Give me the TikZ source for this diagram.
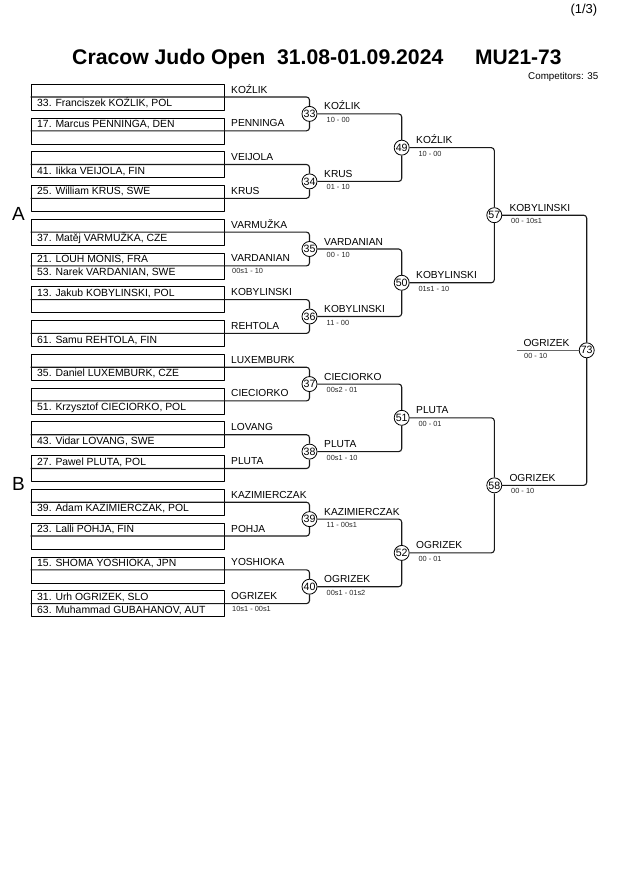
\documentclass[tikz,border=0pt]{standalone}
\usepackage{fontspec}
\setmainfont{Liberation Sans}
\begin{document}
\begin{tikzpicture}[x=1pt,y=-1pt,line join=bevel,
  slot/.style={draw,line width=0.6pt,minimum width=193pt,minimum height=26pt,inner sep=0pt},
  entrant/.style={anchor=base west,inner sep=0pt,font=\fontsize{10.4}{12}\selectfont},
  winner/.style={anchor=base west,inner sep=0pt,font=\fontsize{10.2}{12}\selectfont},
  score/.style={anchor=base west,inner sep=0pt,text=black!85,font=\fontsize{7.4}{9}\selectfont},
  bout/.style={draw,circle,fill=white,line width=0.8pt,minimum size=15pt,inner sep=0pt,font=\fontsize{10.6}{11}\selectfont},
  link/.style={draw=black!90,line width=1.1pt,rounded corners=3pt}]
  \useasboundingbox (0,0) rectangle (630,891);
%%
  % Node: header
  \node[anchor=base east,inner sep=0pt,font=\fontsize{13}{15}\selectfont] (page) at (597.5,13.3) {(1/3)};
  \node[anchor=base west,inner sep=0pt,font=\fontsize{21.2}{24}\selectfont\bfseries] (title) at (72,65) {Cracow Judo Open~~31.08-01.09.2024};
  \node[anchor=base west,inner sep=0pt,font=\fontsize{21}{24}\selectfont\bfseries] (cat) at (475,65) {MU21-73};
  \node[anchor=base east,inner sep=0pt,font=\fontsize{9.8}{11}\selectfont] (count) at (598.5,80) {Competitors: 35};
  \node[anchor=base west,inner sep=0pt,font=\fontsize{19}{22}\selectfont] (poolA) at (12,220) {A};
  \node[anchor=base west,inner sep=0pt,font=\fontsize{19}{22}\selectfont] (poolB) at (12,490) {B};
%
  % Node: slots, pool A
  \node[slot] (s1) at (127.5,97.0) {};
  \node[slot] (s2) at (127.5,130.8) {};
  \node[slot] (s3) at (127.5,164.5) {};
  \node[slot] (s4) at (127.5,198.3) {};
  \node[slot] (s5) at (127.5,232.1) {};
  \node[slot] (s6) at (127.5,265.9) {};
  \node[slot] (s7) at (127.5,299.6) {};
  \node[slot] (s8) at (127.5,333.4) {};
  % Node: slots, pool B
  \node[slot] (s9) at (127.5,367.2) {};
  \node[slot] (s10) at (127.5,400.9) {};
  \node[slot] (s11) at (127.5,434.7) {};
  \node[slot] (s12) at (127.5,468.5) {};
  \node[slot] (s13) at (127.5,502.2) {};
  \node[slot] (s14) at (127.5,536.0) {};
  \node[slot] (s15) at (127.5,569.8) {};
  \node[slot] (s16) at (127.5,603.6) {};
%
  % Node: entrants
  \node[entrant] (e1) at (37,106.7) {33. Franciszek KOŹLIK, POL};
  \node[entrant] (e2) at (37,127.3) {17. Marcus PENNINGA, DEN};
  \node[entrant] (e3) at (37,174.2) {41. Iikka VEIJOLA, FIN};
  \node[entrant] (e4) at (37,194.8) {25. William KRUS, SWE};
  \node[entrant] (e5) at (37,241.8) {37. Matěj VARMUŽKA, CZE};
  \node[entrant] (e6) at (37,262.4) {21. LOUH MONIS, FRA};
  \node[entrant] (e6b) at (37,275.6) {53. Narek VARDANIAN, SWE};
  \node[entrant] (e7) at (37,296.1) {13. Jakub KOBYLINSKI, POL};
  \node[entrant] (e8) at (37,343.1) {61. Samu REHTOLA, FIN};
  \node[entrant] (e9) at (37,376.9) {35. Daniel LUXEMBURK, CZE};
  \node[entrant] (e10) at (37,410.6) {51. Krzysztof CIECIORKO, POL};
  \node[entrant] (e11) at (37,444.4) {43. Vidar LOVANG, SWE};
  \node[entrant] (e12) at (37,465.0) {27. Pawel PLUTA, POL};
  \node[entrant] (e13) at (37,511.9) {39. Adam KAZIMIERCZAK, POL};
  \node[entrant] (e14) at (37,532.5) {23. Lalli POHJA, FIN};
  \node[entrant] (e15) at (37,566.3) {15. SHOMA YOSHIOKA, JPN};
  \node[entrant] (e16) at (37,600.1) {31. Urh OGRIZEK, SLO};
  \node[entrant] (e16b) at (37,613.3) {63. Muhammad GUBAHANOV, AUT};
%
  % Node: bouts
  \node[bout] (b33) at (309.5,113.9) {33};
  \node[bout] (b34) at (309.5,181.4) {34};
  \node[bout] (b35) at (309.5,249.0) {35};
  \node[bout] (b36) at (309.5,316.5) {36};
  \node[bout] (b37) at (309.5,384.05) {37};
  \node[bout] (b38) at (309.5,451.6) {38};
  \node[bout] (b39) at (309.5,519.1) {39};
  \node[bout] (b40) at (309.5,586.7) {40};
  \node[bout] (b49) at (401.7,147.65) {49};
  \node[bout] (b50) at (401.7,282.75) {50};
  \node[bout] (b51) at (401.7,417.8) {51};
  \node[bout] (b52) at (401.7,552.9) {52};
  \node[bout] (b57) at (494.3,215.2) {57};
  \node[bout] (b58) at (494.3,485.35) {58};
  \node[bout] (b73) at (586.7,350.3) {73};
  \coordinate (rep) at (516.7,350.3);
%
  % Edge: slots -> first round
  \draw[link] (s1.west) -| (b33);
  \draw[link] (s2.west) -| (b33);
  \draw[link] (s3.west) -| (b34);
  \draw[link] (s4.west) -| (b34);
  \draw[link] (s5.west) -| (b35);
  \draw[link] (s6.west) -| (b35);
  \draw[link] (s7.west) -| (b36);
  \draw[link] (s8.west) -| (b36);
  \draw[link] (s9.west) -| (b37);
  \draw[link] (s10.west) -| (b37);
  \draw[link] (s11.west) -| (b38);
  \draw[link] (s12.west) -| (b38);
  \draw[link] (s13.west) -| (b39);
  \draw[link] (s14.west) -| (b39);
  \draw[link] (s15.west) -| (b40);
  \draw[link] (s16.west) -| (b40);
  % Edge: first round -> second round
  \draw[link] (b33) -| (b49);
  \draw[link] (b34) -| (b49);
  \draw[link] (b35) -| (b50);
  \draw[link] (b36) -| (b50);
  \draw[link] (b37) -| (b51);
  \draw[link] (b38) -| (b51);
  \draw[link] (b39) -| (b52);
  \draw[link] (b40) -| (b52);
  % Edge: second round -> pool finals
  \draw[link] (b49) -| (b57);
  \draw[link] (b50) -| (b57);
  \draw[link] (b51) -| (b58);
  \draw[link] (b52) -| (b58);
  % Edge: pool finals -> 73
  \draw[link] (b57) -| (b73);
  \draw[link] (b58) -| (b73);
  \draw[link,draw=black!60] (rep) -- (b73);
%
  % Node: names next to the slots
  \node[winner] (w1) at (231,93.0) {KOŹLIK};
  \node[winner] (w2) at (231,126.8) {PENNINGA};
  \node[winner] (w3) at (231,160.5) {VEIJOLA};
  \node[winner] (w4) at (231,194.3) {KRUS};
  \node[winner] (w5) at (231,228.1) {VARMUŽKA};
  \node[winner] (w6) at (231,261.9) {VARDANIAN};
  \node[score] (r6) at (232,273.9) {00s1 - 10};
  \node[winner] (w7) at (231,295.6) {KOBYLINSKI};
  \node[winner] (w8) at (231,329.4) {REHTOLA};
  \node[winner] (w9) at (231,363.2) {LUXEMBURK};
  \node[winner] (w10) at (231,396.9) {CIECIORKO};
  \node[winner] (w11) at (231,430.7) {LOVANG};
  \node[winner] (w12) at (231,464.5) {PLUTA};
  \node[winner] (w13) at (231,498.2) {KAZIMIERCZAK};
  \node[winner] (w14) at (231,532.0) {POHJA};
  \node[winner] (w15) at (231,565.8) {YOSHIOKA};
  \node[winner] (w16) at (231,599.6) {OGRIZEK};
  \node[score] (r16) at (232,611.6) {10s1 - 00s1};
  % Node: first round results
  \node[winner] (w33) at (324,109.9) {KOŹLIK};
  \node[score] (r33) at (326.5,122.4) {10 - 00};
  \node[winner] (w34) at (324,177.4) {KRUS};
  \node[score] (r34) at (326.5,189.9) {01 - 10};
  \node[winner] (w35) at (324,245.0) {VARDANIAN};
  \node[score] (r35) at (326.5,257.5) {00 - 10};
  \node[winner] (w36) at (324,312.5) {KOBYLINSKI};
  \node[score] (r36) at (326.5,325.0) {11 - 00};
  \node[winner] (w37) at (324,380.0) {CIECIORKO};
  \node[score] (r37) at (326.5,392.5) {00s2 - 01};
  \node[winner] (w38) at (324,447.6) {PLUTA};
  \node[score] (r38) at (326.5,460.1) {00s1 - 10};
  \node[winner] (w39) at (324,515.1) {KAZIMIERCZAK};
  \node[score] (r39) at (326.5,527.6) {11 - 00s1};
  \node[winner] (w40) at (324,582.7) {OGRIZEK};
  \node[score] (r40) at (326.5,595.2) {00s1 - 01s2};
  % Node: second round results
  \node[winner] (w49) at (416,143.6) {KOŹLIK};
  \node[score] (r49) at (418.3,156.1) {10 - 00};
  \node[winner] (w50) at (416,278.7) {KOBYLINSKI};
  \node[score] (r50) at (418.3,291.2) {01s1 - 10};
  \node[winner] (w51) at (416,413.8) {PLUTA};
  \node[score] (r51) at (418.3,426.3) {00 - 01};
  \node[winner] (w52) at (416,548.9) {OGRIZEK};
  \node[score] (r52) at (418.3,561.4) {00 - 01};
  % Node: pool final results
  \node[winner] (w57) at (509.3,211.2) {KOBYLINSKI};
  \node[score] (r57) at (511,223.7) {00 - 10s1};
  \node[winner] (w58) at (509.3,481.3) {OGRIZEK};
  \node[score] (r58) at (511,493.8) {00 - 10};
  \node[winner] (w73) at (523.3,346.3) {OGRIZEK};
  \node[score] (r73) at (524,358.8) {00 - 10};
%
\end{tikzpicture}
\end{document}
